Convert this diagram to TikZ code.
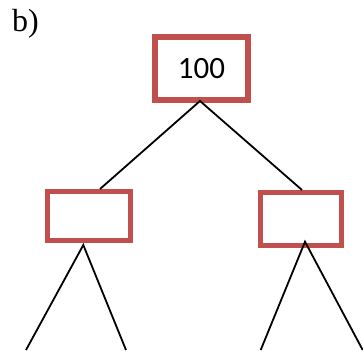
\documentclass[tikz,border=0pt]{standalone}
\usepackage{fontspec}
\setmainfont{Liberation Serif}
\newfontfamily\calib{Carlito}
\definecolor{boxred}{HTML}{C0504D}
\begin{document}
\begin{tikzpicture}[x=1pt,y=1pt,
  treebox/.style={draw=boxred, fill=white, inner sep=0pt},
  edge/.style={draw=black, line width=1.8pt}]
\useasboundingbox (0,0) rectangle (363,-350);
\node[anchor=base west, inner sep=0pt, font=\fontsize{32}{36}\selectfont] (lab) at (12,-32) {b)};
\node[treebox, line width=5.5pt, minimum width=93pt, minimum height=63pt, font=\calib\fontsize{31}{36}\selectfont] (top) at (201.5,-68.5) {100};
\node[treebox, line width=5pt, minimum width=82.5pt, minimum height=49pt] (lb) at (88.75,-215.5) {};
\node[treebox, line width=5pt, minimum width=81pt, minimum height=53pt] (rb) at (300.5,-218.5) {};
\coordinate (tap) at (200,-101);
\coordinate (la) at (100,-189);
\coordinate (ra) at (302,-190);
\coordinate (lapex) at (83.3,-245);
\coordinate (rapex) at (305,-241.7);
\coordinate (l1) at (26,-350);
\coordinate (l2) at (126,-350);
\coordinate (r1) at (260.7,-350);
\coordinate (r2) at (362.7,-350);
\draw[edge] (la) -- (tap) -- (ra);
\draw[edge] (l1) -- (lapex) -- (l2);
\draw[edge] (r1) -- (rapex) -- (r2);
\end{tikzpicture}
\end{document}
